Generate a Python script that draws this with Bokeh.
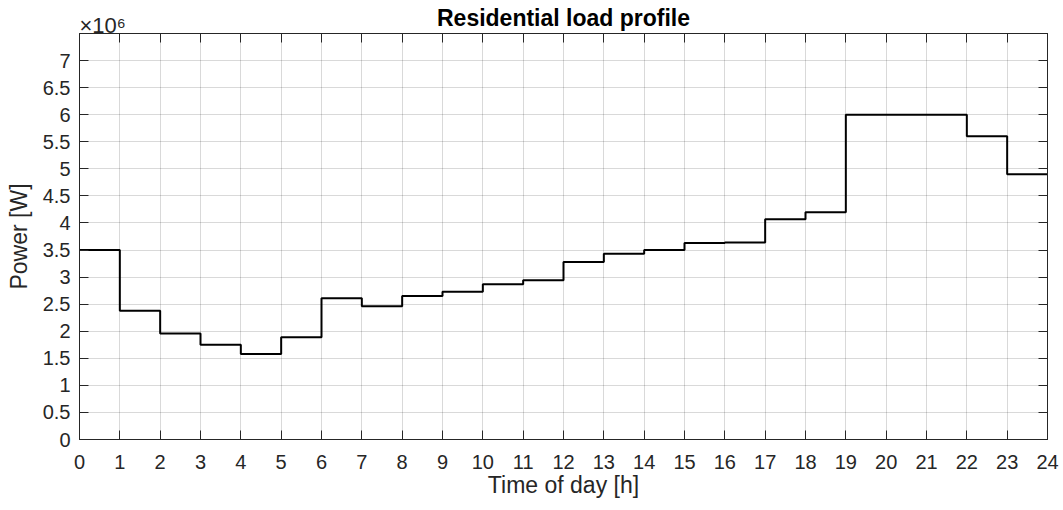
from bokeh.plotting import figure
from bokeh.models import LinearAxis, FixedTicker, Range1d, Title
from bokeh.embed import file_html
from bokeh.resources import INLINE

hours = list(range(25))
power_w = [3.50e6, 2.38e6, 1.96e6, 1.75e6, 1.58e6, 1.89e6, 2.61e6, 2.46e6,
           2.65e6, 2.73e6, 2.87e6, 2.94e6, 3.28e6, 3.43e6, 3.50e6, 3.63e6,
           3.64e6, 4.07e6, 4.20e6, 6.00e6, 6.00e6, 6.00e6, 5.60e6, 4.90e6]
x_ticks = list(range(0, 25))
y_ticks = [int(i * 500000) for i in range(15)]
y_tick_labels = ["0", "0.5", "1", "1.5", "2", "2.5", "3", "3.5", "4", "4.5",
                 "5", "5.5", "6", "6.5", "7"]
title_text = "Residential load profile"
exp_text = "\u00d710\u2076"
x_label = "Time of day [h]"
y_label = "Power [W]"

FONT = "Liberation Sans"
AX = "#262626"
W, H = 1063, 510

p = figure(width=W, height=H, output_backend="svg", toolbar_location=None,
           x_range=Range1d(0, 24), y_range=Range1d(0, 7.5e6),
           min_border_left=79, min_border_right=16, min_border_top=33,
           min_border_bottom=71)
p.background_fill_color = "white"
p.border_fill_color = "white"
p.outline_line_color = AX
p.outline_line_width = 1

y_vals = power_w + [power_w[-1]]
p.step(hours, y_vals, mode="after", line_color="black", line_width=2)

for ax in (p.xaxis[0], p.yaxis[0]):
    ax.axis_line_color = AX
    ax.major_tick_line_color = AX
    ax.major_tick_in = 9
    ax.major_tick_out = 0
    ax.minor_tick_line_color = None
    ax.major_label_text_font = FONT
    ax.major_label_text_font_size = "20px"
    ax.major_label_text_color = AX
    ax.axis_label_text_font = FONT
    ax.axis_label_text_font_size = "23px"
    ax.axis_label_text_font_style = "normal"
    ax.axis_label_text_color = AX

p.xaxis[0].ticker = FixedTicker(ticks=x_ticks)
p.yaxis[0].ticker = FixedTicker(ticks=y_ticks)
p.yaxis[0].major_label_overrides = {t: l for t, l in zip(y_ticks, y_tick_labels)}
p.xaxis[0].axis_label = x_label
p.yaxis[0].axis_label = y_label
p.xaxis[0].major_label_standoff = 15
p.yaxis[0].major_label_standoff = 9
p.xaxis[0].axis_label_standoff = 0
p.yaxis[0].axis_label_standoff = 8

for loc, tk in (("right", y_ticks), ("above", x_ticks)):
    a = LinearAxis(ticker=FixedTicker(ticks=tk))
    a.axis_line_color = AX
    a.major_tick_line_color = AX
    a.major_tick_in = 9
    a.major_tick_out = 0
    a.minor_tick_line_color = None
    a.major_label_overrides = {t: "" for t in tk}
    a.major_label_text_font_size = "1px"
    a.major_label_standoff = 0
    p.add_layout(a, loc)

p.xgrid.ticker = FixedTicker(ticks=x_ticks)
p.ygrid.ticker = FixedTicker(ticks=y_ticks)
p.grid.grid_line_color = "black"
p.grid.grid_line_alpha = 0.15
p.grid.grid_line_width = 1

p.title.text = title_text
p.title.align = "center"
p.title.text_font = FONT
p.title.text_font_size = "23px"
p.title.text_font_style = "bold"
p.title.text_color = "black"
p.title.standoff = -30

exp_title = Title(text=exp_text, align="left")
exp_title.text_font = FONT
exp_title.text_font_size = "22px"
exp_title.text_font_style = "normal"
exp_title.text_color = AX
exp_title.standoff = -9
p.add_layout(exp_title, "above")

open("out.html", "w").write(file_html(p, INLINE))
